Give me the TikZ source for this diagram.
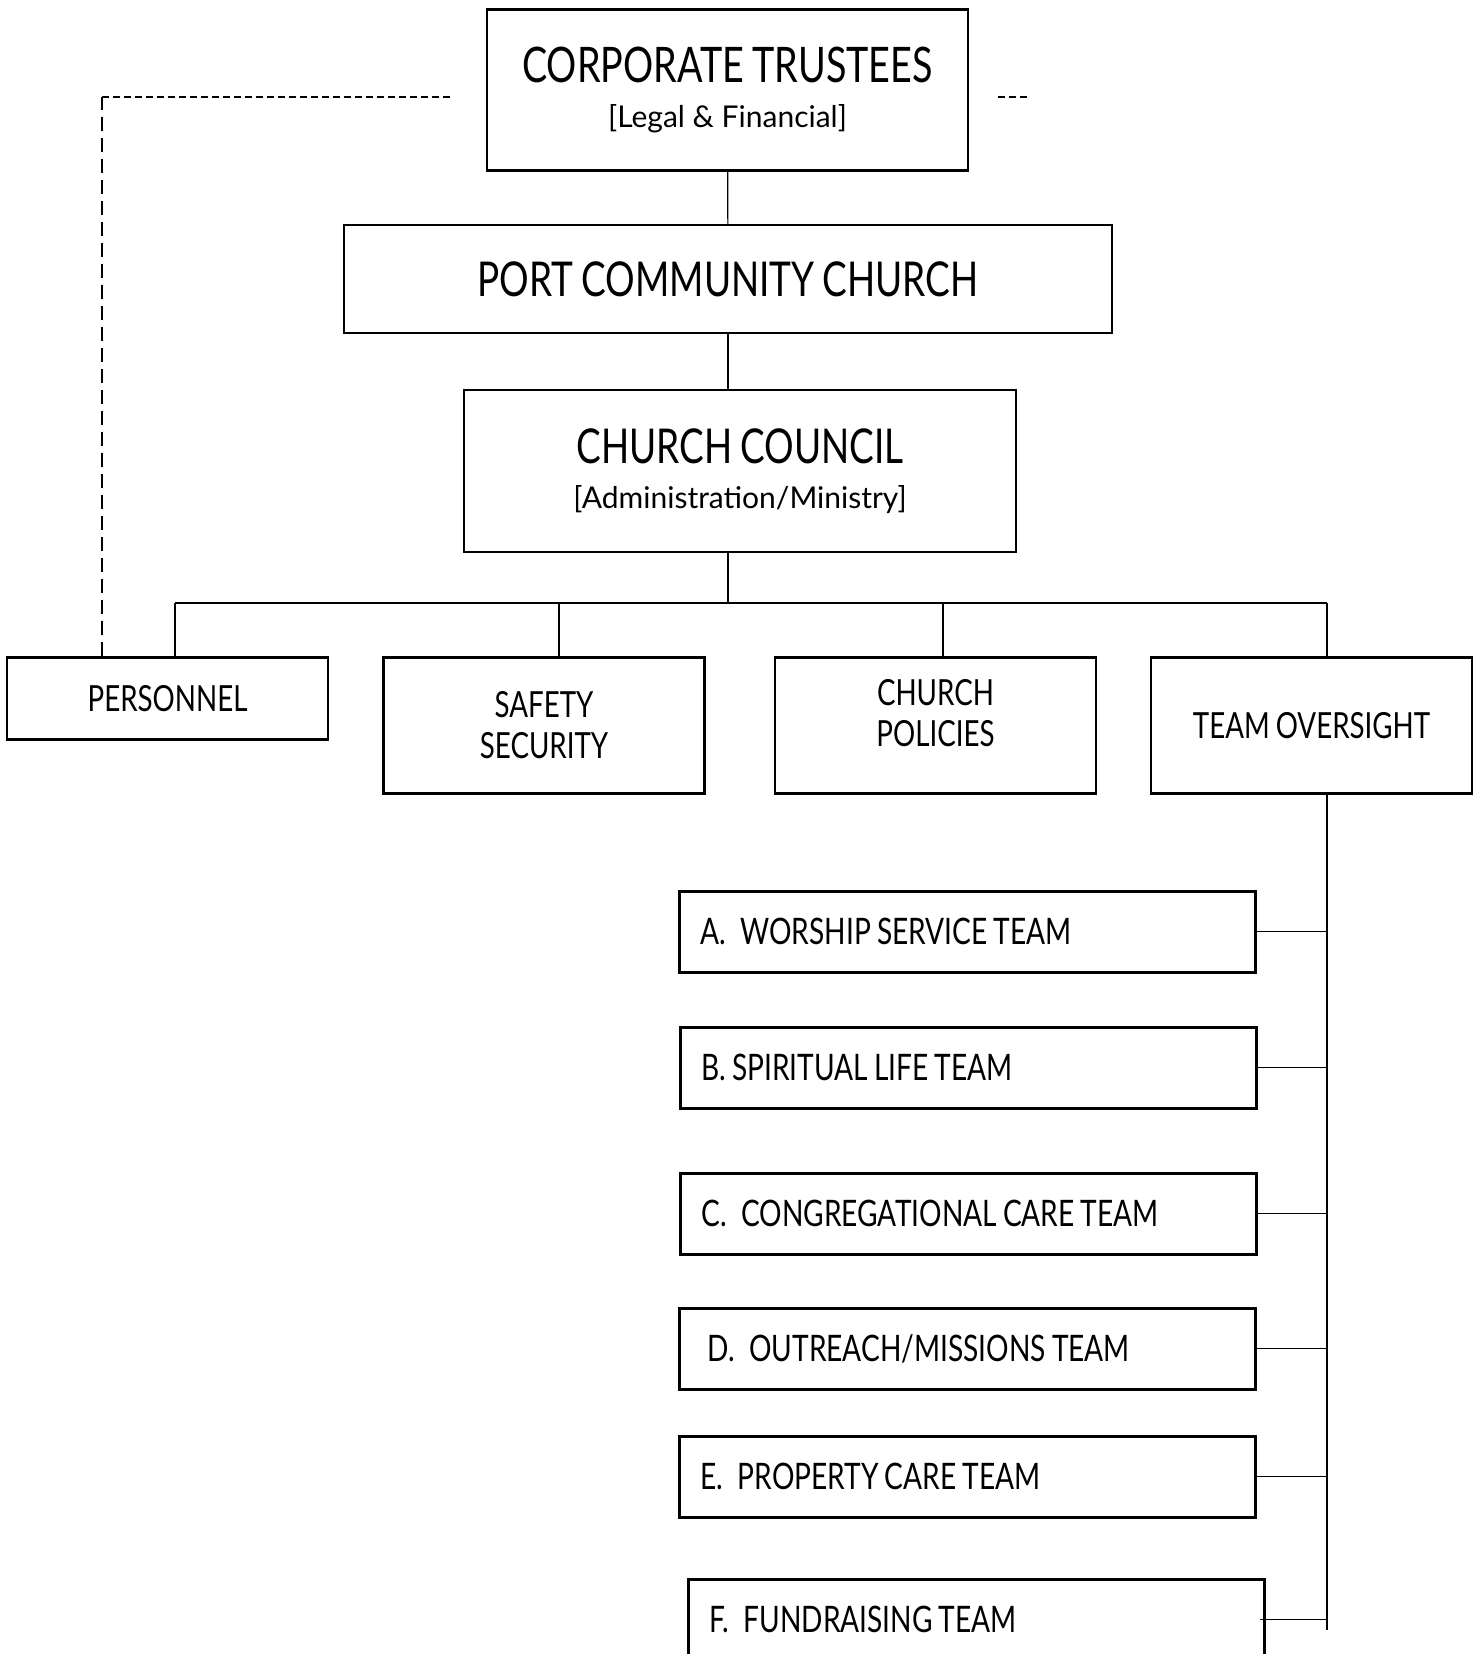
\documentclass[tikz,border=0pt]{standalone}
\usepackage{fontspec}
\setmainfont[FakeStretch=0.77,WordSpace=0.85]{Lato}
\newfontfamily\subfont{Lato}

\begin{document}
\begin{tikzpicture}[x=1pt,y=-1pt,
  box/.style={draw, line width=2.5pt, inner sep=0pt, align=center},
  lvlbox/.style={box, minimum width=321pt, font=\fontsize{36}{41}\selectfont},
  teambox/.style={draw, line width=2.5pt, minimum height=81pt, text width=534pt,
    inner xsep=21pt, inner ysep=0pt, align=flush left, font=\fontsize{36.5}{40}\selectfont},
  link/.style={line width=1.2pt},
  dashlink/.style={line width=2pt, dash pattern=on 7pt off 4pt}]
  \clip (0,0) rectangle (1481,1654);

  \node[box, minimum width=481pt, minimum height=161pt] (CT) at (727.5,90)
    {{\fontsize{49}{50}\selectfont CORPORATE TRUSTEES}\\[21pt]{\subfont\fontsize{30}{36}\selectfont [Legal \& Financial]}};
  \node[box, minimum width=768pt, minimum height=108pt, font=\fontsize{48}{50}\selectfont] (PCC) at (728,279)
    {PORT COMMUNITY CHURCH};
  \node[box, minimum width=552pt, minimum height=162pt] (CC) at (740,471)
    {{\fontsize{48}{50}\selectfont CHURCH COUNCIL}\\[21pt]{\subfont\fontsize{30}{36}\selectfont [Administration/Ministry]}};

  \node[lvlbox, minimum height=82pt, anchor=north] (PERS) at (167.5,656) {PERSONNEL};
  \node[lvlbox, minimum height=136pt, anchor=north] (SAFE) at (544,656) {SAFETY\\SECURITY};
  \node[lvlbox, minimum height=136pt, anchor=north,
    label={[font=\fontsize{36}{41}\selectfont, align=center, yshift=12pt]center:{CHURCH\\POLICIES}}] (POL) at (935.5,656) {};
  \node[lvlbox, minimum height=136pt, anchor=north] (TO) at (1311.5,656) {TEAM OVERSIGHT};

  \node[teambox, anchor=north west] (A) at (678,890) {A.\hspace{0.4em}WORSHIP SERVICE TEAM};
  \node[teambox, anchor=north west] (B) at (679,1026) {B. SPIRITUAL LIFE TEAM};
  \node[teambox, anchor=north west] (C) at (679,1172) {C.\hspace{0.4em}CONGREGATIONAL CARE TEAM};
  \node[teambox, anchor=north west] (D) at (678,1307) {\hspace*{7pt}D.\hspace{0.4em}OUTREACH/MISSIONS TEAM};
  \node[teambox, anchor=north west] (E) at (678,1435) {E.\hspace{0.4em}PROPERTY CARE TEAM};
  \node[teambox, anchor=north west] (F) at (687,1578) {F.\hspace{0.4em}FUNDRAISING TEAM};

  \coordinate (bus) at (728,603);
  \coordinate (trunk) at (1327,1630);
  \draw[link] (CT) -- (PCC);
  \draw[link] (PCC.south) -- (PCC.south |- CC.north);
  \draw[link] (CC.south -| bus) -- (bus);
  \draw[link] (175,603) -- (1327,603);
  \foreach \n [count=\i from 0] in {PERS,SAFE,POL,TO}
    \draw[link] (175+384*\i,603) -- (\n.north -| 175+384*\i,0);
  \draw[link] (TO.south -| trunk) -- (trunk);
  \foreach \n in {A,B,C,D,E}
    \draw[link] (\n.east) -- (\n.east -| trunk);
  \draw[link] ([xshift=-6pt]F.east) -- (F.east -| trunk);

  % dashed line to the trustees
  \coordinate (corner) at (102,97);
  \coordinate (dashend) at (451,97);
  \coordinate (dashr) at (998,97);
  \coordinate (dashrend) at (1029,97);
  \draw[dashlink, dash pattern=on 14pt off 7pt] (PERS.north -| corner) -- (corner);
  \draw[dashlink] (corner) -- (dashend);
  \draw[dashlink] (dashr) -- (dashrend);
\end{tikzpicture}
\end{document}
